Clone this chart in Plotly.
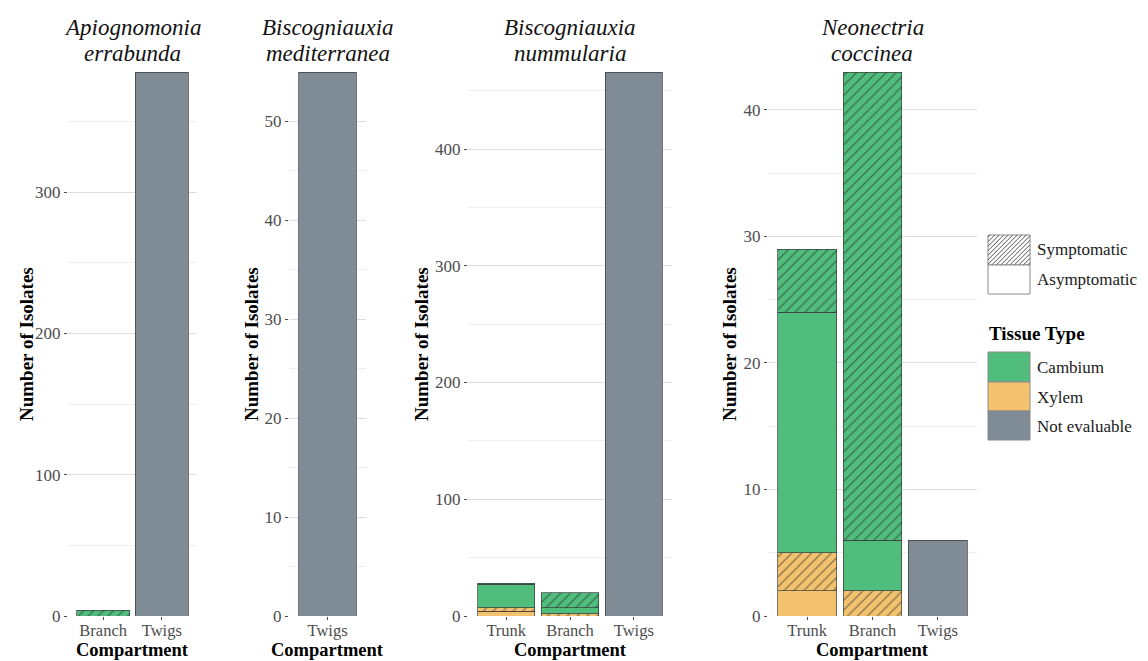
import plotly.graph_objects as go

W, H = 1148, 661
FONT = "Liberation Serif"

# ---- data -------------------------------------------------------------
species_line1 = ["Apiognomonia", "Biscogniauxia", "Biscogniauxia", "Neonectria"]
species_line2 = ["errabunda", "mediterranea", "nummularia", "coccinea"]
compartments = [
    ["Branch", "Twigs"],
    ["Twigs"],
    ["Trunk", "Branch", "Twigs"],
    ["Trunk", "Branch", "Twigs"],
]
xylem_asym = [[0, 0], [0], [4, 0, 0], [2, 0, 0]]
xylem_sym = [[0, 0], [0], [3, 2, 0], [3, 2, 0]]
cambium_asym = [[0, 0], [0], [20, 5, 0], [19, 4, 0]]
cambium_sym = [[4, 0], [0], [1, 13, 0], [5, 37, 0]]
not_evaluable = [[0, 385], [55], [0, 0, 466], [0, 0, 6]]
y_dtick = [100, 10, 100, 10]

# ---- style ------------------------------------------------------------
C_CAMBIUM = "#50BD7D"
C_XYLEM = "#F3C26F"
C_NOTEVAL = "#7F8B95"
OUTLINE = "#3a3a3a"
TICK_GREY = "#4D4D4D"

# panel extents in pixels (left, right); all panels share top/bottom
panel_px = [(68, 197), (289, 366), (468, 672), (768, 977)]
TOP_PX, BOTTOM_PX = 72, 616

segments = [
    (xylem_asym, C_XYLEM, False),
    (xylem_sym, C_XYLEM, True),
    (cambium_asym, C_CAMBIUM, False),
    (cambium_sym, C_CAMBIUM, True),
    (not_evaluable, C_NOTEVAL, False),
]


def px_x(x):
    return x / W


def px_y(y):
    return 1 - y / H


fig = go.Figure()
annotations = []
layout_axes = {}

for i in range(4):
    ax = "" if i == 0 else str(i + 1)
    xref, yref = "x" + ax, "y" + ax
    cats = compartments[i]
    for vals, color, hatched in segments:
        v = [val if val > 0 else None for val in vals[i]]
        if all(val is None for val in v):
            continue
        marker = dict(color=color, line=dict(color=OUTLINE, width=0.7))
        if hatched:
            marker["pattern"] = dict(shape="/", fgcolor="#1f1f1f", size=7,
                                     solidity=0.18, fillmode="overlay")
        fig.add_trace(go.Bar(x=cats, y=v, marker=marker, width=0.9,
                             xaxis=xref, yaxis=yref, showlegend=False,
                             hoverinfo="x+y"))

    totals = [sum(s[0][i][k] for s in segments) for k in range(len(cats))]
    ymax = max(totals)
    n = len(cats)
    x0, x1 = panel_px[i]
    layout_axes["xaxis" + ax] = dict(
        domain=[px_x(x0), px_x(x1)], anchor=yref, type="category",
        categoryorder="array", categoryarray=cats, automargin=False,
        range=[-0.6, n - 0.4], showgrid=False, zeroline=False, showline=False,
        ticks="outside", ticklen=3, tickcolor=TICK_GREY, tickwidth=1,
        ticklabelstandoff=-4,
        tickfont=dict(family=FONT, size=16.5, color=TICK_GREY),
        fixedrange=True,
    )
    layout_axes["yaxis" + ax] = dict(
        domain=[px_y(BOTTOM_PX), px_y(TOP_PX)], anchor=xref, automargin=False,
        range=[0, ymax], dtick=y_dtick[i], tick0=0,
        showgrid=True, gridcolor="#DEDEDE", gridwidth=1,
        minor=dict(dtick=y_dtick[i] / 2, showgrid=True, gridcolor="#EEEEEE",
                   gridwidth=1),
        zeroline=False, showline=False,
        ticks="outside", ticklen=3, tickcolor=TICK_GREY, tickwidth=1,
        tickfont=dict(family=FONT, size=17, color=TICK_GREY),
        fixedrange=True,
    )

    cx = (x0 + x1) / 2
    annotations += [
        dict(text="<i>%s</i>" % species_line1[i], x=px_x(cx), y=px_y(28),
             xref="paper", yref="paper", showarrow=False,
             xanchor="center", yanchor="middle",
             font=dict(family=FONT, size=23, color="#111111")),
        dict(text="<i>%s</i>" % species_line2[i], x=px_x(cx), y=px_y(53),
             xref="paper", yref="paper", showarrow=False,
             xanchor="center", yanchor="middle",
             font=dict(family=FONT, size=23, color="#111111")),
        dict(text="<b>Compartment</b>", x=px_x(cx), y=px_y(650),
             xref="paper", yref="paper", showarrow=False,
             xanchor="center", yanchor="middle", borderpad=0,
             font=dict(family=FONT, size=18.5, color="#000000")),
    ]

# y-axis titles
ytitle_x = [26, 251, 421, 729]
for xt in ytitle_x:
    annotations.append(dict(
        text="<b>Number of Isolates</b>", x=px_x(xt),
        y=px_y((TOP_PX + BOTTOM_PX) / 2), xref="paper", yref="paper",
        showarrow=False, textangle=-90, xanchor="center", yanchor="middle",
        font=dict(family=FONT, size=19, color="#000000")))

# ---- legend (drawn as shapes + text) ---------------------------------
shapes = []
LX0, LX1 = 988, 1030


def rect(y0, y1, fill, line="#8a8a8a"):
    shapes.append(dict(type="rect", xref="paper", yref="paper",
                       x0=px_x(LX0), x1=px_x(LX1), y0=px_y(y1), y1=px_y(y0),
                       fillcolor=fill, line=dict(color=line, width=1),
                       layer="above"))


def hatch(y0, y1, step=4.5):
    # "/" strokes clipped to the swatch box (screen coords, y down)
    c = LX0 + y0 + step / 2
    while c < LX1 + y1:
        xa = max(LX0, c - y1)
        xb = min(LX1, c - y0)
        if xb > xa:
            shapes.append(dict(type="line", xref="paper", yref="paper",
                               x0=px_x(xa), y0=px_y(c - xa),
                               x1=px_x(xb), y1=px_y(c - xb),
                               line=dict(color="#555555", width=1),
                               layer="above"))
        c += step


rect(235, 265, "white")
hatch(235, 265)
rect(265, 294, "white")
rect(352, 382, C_CAMBIUM)
rect(382, 411, C_XYLEM)
rect(411, 440, C_NOTEVAL)

legend_labels = [("Symptomatic", 250), ("Asymptomatic", 280),
                 ("Cambium", 367), ("Xylem", 397), ("Not evaluable", 426)]
for txt, yy in legend_labels:
    annotations.append(dict(text=txt, x=px_x(1035), y=px_y(yy),
                            xref="paper", yref="paper", showarrow=False,
                            xanchor="left", yanchor="middle",
                            font=dict(family=FONT, size=17, color="#1a1a1a")))
annotations.append(dict(text="<b>Tissue Type</b>", x=px_x(987), y=px_y(333),
                        xref="paper", yref="paper", showarrow=False,
                        xanchor="left", yanchor="middle",
                        font=dict(family=FONT, size=19, color="#000000")))

fig.update_layout(
    width=W, height=H,
    margin=dict(l=0, r=0, t=0, b=0, autoexpand=False),
    paper_bgcolor="white", plot_bgcolor="white",
    barmode="stack", showlegend=False,
    annotations=annotations, shapes=shapes,
    font=dict(family=FONT),
    **layout_axes,
)

fig.write_html("out.html")
